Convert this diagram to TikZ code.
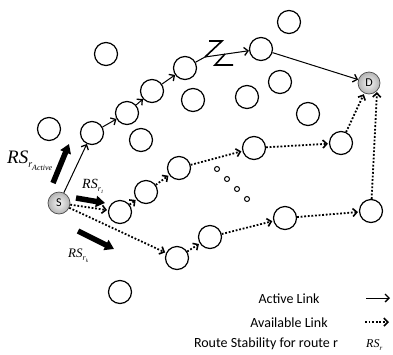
\documentclass[tikz,border=0pt]{standalone}
\usepackage{fontspec}
\setmainfont{Carlito}
\newfontfamily\rsfont{Liberation Serif}
\usetikzlibrary{arrows.meta,shadings}
\tikzset{
  host/.style={circle,draw,line width=1.2pt,minimum size=23pt,inner sep=0pt},
  endpoint/.style={circle,draw=black!70,line width=0.7pt,inner color=black!4,outer color=black!30,minimum size=22pt,inner sep=0pt,font=\fontsize{12}{12}\selectfont},
  tiny/.style={circle,draw,line width=1pt,minimum size=5pt,inner sep=0pt},
  active/.style={line width=1pt,-{Straight Barb[length=4pt,width=8pt,line width=1.3pt]}},
  avail/.style={line width=1.8pt,dash pattern=on 1.8pt off 1.8pt,-{Straight Barb[length=4pt,width=8pt,line width=1.6pt]},shorten >=1pt},
  stab/.style={line width=5.5pt,-{Triangle[length=9pt,width=11pt]}},
  zig/.style={line width=1.6pt,line join=miter},
  legend/.style={font=\fontsize{14}{14}\selectfont,anchor=base},
  rs/.style={inner sep=0pt,anchor=base west},
}
\begin{document}
\begin{tikzpicture}[x=1pt,y=-1pt]
\useasboundingbox (0,0) rectangle (393,354);

% source and destination
\node[endpoint] (S) at (59,203) {S};
\node[endpoint] (D) at (369,83) {D};

% nodes on the active route
\node[host] (a1) at (92,133) {};
\node[host] (a2) at (127,113) {};
\node[host] (a3) at (152,91) {};
\node[host] (a4) at (185,68) {};
\node[host] (a5) at (261,49) {};

% nodes on the first available route
\node[host] (b1) at (120,212) {};
\node[host] (b2) at (146,192) {};
\node[host] (b3) at (179,168) {};
\node[host] (b4) at (254,148) {};
\node[host] (b5) at (341,143) {};

% nodes on the k-th available route
\node[host] (c1) at (177,258) {};
\node[host] (c2) at (210,237) {};
\node[host] (c3) at (285,218) {};
\node[host] (c4) at (371,211) {};

% idle nodes
\node[host] (f1) at (106,54) {};
\node[host] (f2) at (49,129) {};
\node[host] (f3) at (141,140) {};
\node[host] (f4) at (193,100) {};
\node[host] (f5) at (289,22) {};
\node[host] (f6) at (280,82) {};
\node[host] (f7) at (247,97) {};
\node[host] (f8) at (308,114) {};
\node[host] (f9) at (120,292) {};

% routes in between
\node[tiny] (e1) at (217,169) {};
\node[tiny] (e2) at (227,179) {};
\node[tiny] (e3) at (237,189) {};
\node[tiny] (e4) at (247,199) {};

% active route with a broken link
\coordinate (z) at (205,57);
\draw[active] (S) -- (a1);
\draw[active] (a1) -- (a2);
\draw[active] (a2) -- (a3);
\draw[active] (a3) -- (a4);
\draw[line width=1pt] (a4) -- (z);
\draw[active] (z) -- (a5);
\draw[active] (a5) -- (D);
\draw[zig] (209,41) -- (222,41) -- (z);
\draw[zig] (225,54) -- (215,65) -- (233,65);

% available routes
\draw[avail] (S) -- (b1);
\draw[avail] (b1) -- (b2);
\draw[avail] (b2) -- (b3);
\draw[avail] (b3) -- (b4);
\draw[avail] (b4) -- (b5);
\draw[avail] (b5) -- (D);
\draw[avail] (S) -- (c1);
\draw[avail] (c1) -- (c2);
\draw[avail] (c2) -- (c3);
\draw[avail] (c3) -- (c4);
\draw[avail] (c4) -- (D.south east);

% route stability indicators
\coordinate (p1) at (53,183);
\coordinate (p2) at (69,144);
\coordinate (q1) at (76,198);
\coordinate (q2) at (105,203);
\coordinate (r1) at (78,231);
\coordinate (r2) at (114,249);
\draw[stab] (p1) -- (p2);
\draw[stab] (q1) -- (q2);
\draw[stab] (r1) -- (r2);

\node[rs] (lA) at (7,163) {\rsfont\itshape\fontsize{19}{19}\selectfont RS\raisebox{-0.25em}{\fontsize{10}{10}\selectfont r\raisebox{-0.3em}{\fontsize{8}{8}\selectfont Active}}};
\node[rs] (l1) at (82,188) {\rsfont\itshape\fontsize{14}{14}\selectfont RS\raisebox{-0.25em}{\fontsize{8}{8}\selectfont r\raisebox{-0.25em}{\fontsize{5}{5}\selectfont 1}}};
\node[rs] (lk) at (68,257) {\rsfont\itshape\fontsize{13}{13}\selectfont RS\raisebox{-0.25em}{\fontsize{8}{8}\selectfont r\raisebox{-0.25em}{\fontsize{5}{5}\selectfont k}}};

% legend
\node[legend] (t1) at (289,303) {Active Link};
\node[legend] (t2) at (289,327) {Available Link};
\node[legend] (t3) at (266,347) {Route Stability for route r};
\coordinate (s1) at (366,298);
\coordinate (s2) at (390,298);
\coordinate (u1) at (365,322);
\coordinate (u2) at (390,322);
\draw[active] (s1) -- (s2);
\draw[avail] (u1) -- (u2);
\node[rs] (lr) at (366,347) {\rsfont\itshape\fontsize{12}{12}\selectfont RS\raisebox{-0.25em}{\fontsize{7}{7}\selectfont r}};
\end{tikzpicture}
\end{document}
